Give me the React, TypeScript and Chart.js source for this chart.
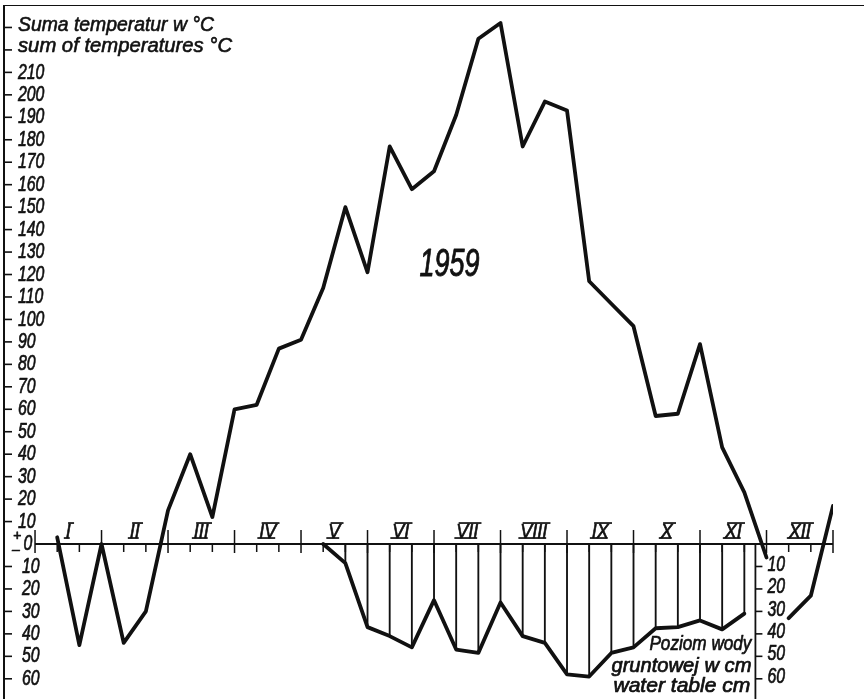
import { useEffect, useRef } from "react";
import { Chart, registerables } from "chart.js";

Chart.register(...registerables);

// ---- data -------------------------------------------------------------
const MONTHS = ["I", "II", "III", "IV", "V", "VI", "VII", "VIII", "IX", "X", "XI", "XII"];
// sum of temperatures (°C) at the end of each dekad (10-day period), dekads 1..36
const TEMP_SUM = [
  3, -45, 0, -44, -30, 15, 40, 12, 60, 62, 87, 91,
  114, 150, 121, 177, 158, 166, 191, 225, 232, 177, 197, 193,
  117, 107, 97, 57, 58, 89, 43, 23, -6, -33, -23, 17,
];
const TEMP_BREAK_AFTER_DEKAD = 33; // the line is interrupted between dekad 33 and 34
// water table depth (cm) from dekad 13 to dekad 32
const WATER_FIRST_DEKAD = 13;
const WATER_DEPTH = [
  0, 8.5, 37, 41, 46, 25, 47, 48.5, 26, 41, 44, 58, 59, 48.5, 46, 37.5, 37, 34, 38, 31,
];
const TEMP_TICKS = [10, 20, 30, 40, 50, 60, 70, 80, 90, 100, 110, 120, 130, 140, 150, 160, 170, 180, 190, 200, 210];
const TITLE_TICKS = [220, 230];
const WATER_TICKS = [10, 20, 30, 40, 50, 60];
const TITLE_LINES = ["Suma temperatur w \u00b0C", "sum of temperatures \u00b0C"];
const WATER_LABEL = ["Poziom wody", "gruntowej w cm", "water table cm"];
const YEAR = "1959";

// ---- helpers ----------------------------------------------------------
const INK = "#111";
const FONT = '"Liberation Sans", Arial, sans-serif';

function drawText(
  ctx: CanvasRenderingContext2D,
  text: string,
  x: number,
  y: number,
  size: number,
  opts: { width?: number; sx?: number; align?: CanvasTextAlign; baseline?: CanvasTextBaseline; bold?: number } = {}
) {
  ctx.save();
  ctx.font = `italic ${size}px ${FONT}`;
  const w = ctx.measureText(text).width;
  const sx = opts.width ? opts.width / w : opts.sx ?? 1;
  ctx.translate(x, y);
  ctx.scale(sx, 1);
  ctx.textAlign = opts.align ?? "left";
  ctx.textBaseline = opts.baseline ?? "middle";
  ctx.fillStyle = INK;
  ctx.strokeStyle = INK;
  ctx.lineJoin = "round";
  ctx.lineWidth = opts.bold ?? 0.7;
  ctx.fillText(text, 0, 0);
  if (ctx.lineWidth > 0) ctx.strokeText(text, 0, 0);
  ctx.restore();
  return w * sx;
}

function line(ctx: CanvasRenderingContext2D, x1: number, y1: number, x2: number, y2: number, w: number) {
  ctx.beginPath();
  ctx.lineWidth = w;
  ctx.moveTo(x1, y1);
  ctx.lineTo(x2, y2);
  ctx.stroke();
}

const framePlugin = {
  id: "frame",
  beforeDatasetsDraw(chart: any) {
    const ctx: CanvasRenderingContext2D = chart.ctx;
    const xs = chart.scales.x;
    const ys = chart.scales.y;
    const area = chart.chartArea;
    const y0 = ys.getPixelForValue(0);
    ctx.save();
    ctx.strokeStyle = INK;
    ctx.lineCap = "butt";

    // frame: left axis and top border
    line(ctx, area.left, area.top, area.left, area.bottom, 2);
    line(ctx, area.left, area.top + 0.5, chart.width, area.top + 0.5, 1.1);

    // left ticks (temperature above, water depth below)
    [...TEMP_TICKS, ...TITLE_TICKS].forEach((v) => {
      const y = ys.getPixelForValue(v);
      line(ctx, area.left, y, area.left + 8, y, 1.6);
    });
    WATER_TICKS.forEach((v) => {
      const y = ys.getPixelForValue(-v);
      line(ctx, area.left, y, area.left + 8, y, 1.6);
    });
    TEMP_TICKS.forEach((v) => {
      drawText(ctx, String(v), area.left + 14, ys.getPixelForValue(v), 22, { sx: 0.72 });
    });
    WATER_TICKS.forEach((v) => {
      drawText(ctx, String(v), area.left + 18, ys.getPixelForValue(-v), 22, { sx: 0.72 });
    });
    drawText(ctx, TITLE_LINES[0], area.left + 14, ys.getPixelForValue(230) + 4, 20, { width: 196, baseline: "alphabetic", bold: 0.6 });
    drawText(ctx, TITLE_LINES[1], area.left + 14, ys.getPixelForValue(220) + 2, 20, { width: 214, baseline: "alphabetic", bold: 0.6 });

    // +0 / - sign
    drawText(ctx, "+", area.left + 13, y0 - 8, 14, { align: "center" });
    drawText(ctx, "0", area.left + 24, y0, 22, { sx: 0.72, align: "center" });
    drawText(ctx, "\u2013", area.left + 12, y0 + 6, 14, { align: "center" });

    // zero line with dekad / month ticks
    const xStart = xs.getPixelForValue(0);
    const xEnd = xs.getPixelForValue(36);
    line(ctx, xStart, y0, xEnd, y0, 2);
    for (let k = 0; k <= 36; k++) {
      const x = xs.getPixelForValue(k);
      if (k % 3 === 0) line(ctx, x, y0 - 14, x, y0 + 9, 1.5);
      else line(ctx, x, y0, x, y0 + 8, 1.5);
    }

    // month labels (roman numerals with bars)
    MONTHS.forEach((m, i) => {
      const cx = xs.getPixelForValue(i * 3 + 1.5);
      const base = y0 - 6;
      const w = drawText(ctx, m, cx, base, 21, { sx: 0.85, align: "center", baseline: "alphabetic" });
      const capH = 15;
      const slant = 0.22;
      line(ctx, cx - w / 2 - 2, base, cx + w / 2 - 1, base, 1.7);
      line(ctx, cx - w / 2 - 1 + capH * slant, base - capH, cx + w / 2 + capH * slant, base - capH, 1.7);
    });

    // right axis for the water table
    const xw = xs.getPixelForValue(32.5);
    line(ctx, xw, y0, xw, area.bottom, 1.8);
    WATER_TICKS.forEach((v) => {
      const y = ys.getPixelForValue(-v);
      line(ctx, xw, y, xw + 7, y, 1.6);
      drawText(ctx, String(v), xw + 12, y - 2, 22, { sx: 0.72 });
    });

    // water table label
    drawText(ctx, WATER_LABEL[0], xw - 4, ys.getPixelForValue(-47), 20, { width: 102, align: "right", baseline: "alphabetic" });
    drawText(ctx, WATER_LABEL[1], xw - 4, ys.getPixelForValue(-57), 20, { width: 140, align: "right", baseline: "alphabetic" });
    drawText(ctx, WATER_LABEL[2], xw - 5, ys.getPixelForValue(-66), 20, { width: 137, align: "right", baseline: "alphabetic" });

    // year
    drawText(ctx, YEAR, xs.getPixelForValue(18.7), ys.getPixelForValue(124), 38, { width: 60, align: "center", bold: 0.9 });

    ctx.restore();
  },
};

export default function App() {
  const ref = useRef<HTMLCanvasElement | null>(null);

  useEffect(() => {
    if (!ref.current) return;
    const tempPts = TEMP_SUM.map((v, i) => ({ x: i + 1, y: v }));
    const waterPts = WATER_DEPTH.map((d, i) => ({ x: WATER_FIRST_DEKAD + i, y: -d }));

    const chart = new Chart(ref.current, {
      type: "line",
      data: {
        datasets: [
          {
            type: "line",
            label: "Suma temperatur",
            data: tempPts,
            borderColor: INK,
            borderWidth: 3.8,
            pointRadius: 0,
            tension: 0,
            borderJoinStyle: "round",
            borderCapStyle: "round",
            segment: {
              borderColor: (c: any) =>
                c.p0DataIndex === TEMP_BREAK_AFTER_DEKAD - 1 ? "rgba(0,0,0,0)" : INK,
            },
            order: 1,
          } as any,
          {
            type: "line",
            label: "Poziom wody gruntowej",
            data: waterPts,
            borderColor: INK,
            borderWidth: 3.8,
            pointRadius: 0,
            tension: 0,
            borderJoinStyle: "round",
            borderCapStyle: "round",
            order: 1,
          } as any,
          {
            type: "bar",
            label: "hatch",
            data: waterPts,
            backgroundColor: INK,
            borderWidth: 0,
            barThickness: 1.2,
            order: 2,
          } as any,
        ],
      },
      options: {
        animation: false,
        responsive: false,
        events: [],
        layout: { padding: { left: 4, right: 31, top: 5, bottom: 0 } },
        plugins: { legend: { display: false }, tooltip: { enabled: false } },
        scales: {
          x: { type: "linear", min: -1.4, max: 36, display: false, offset: false },
          y: { type: "linear", min: -69, max: 240, display: false },
        },
      },
      plugins: [framePlugin],
    });
    return () => chart.destroy();
  }, []);

  return (
    <div style={{ position: "fixed", left: 0, top: 0, width: 864, height: 699, background: "#fff" }}>
      <canvas ref={ref} width={864} height={699} />
    </div>
  );
}
